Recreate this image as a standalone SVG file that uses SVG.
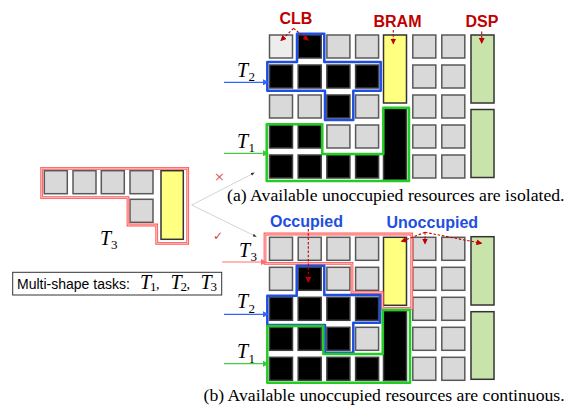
<svg xmlns="http://www.w3.org/2000/svg" width="568" height="407" viewBox="0 0 568 407">
  <style>
    .c { fill: #d9d9d9; stroke: #595959; stroke-width: 1.5; }
    .w { fill: #ededed; stroke: #595959; stroke-width: 1.5; }
    .k { fill: #000; stroke: #404040; stroke-width: 1.5; }
    .y { fill: #ffff80; stroke: #333; stroke-width: 1.5; }
    .g { fill: #c9e4aa; stroke: #333; stroke-width: 1.5; }
    .ob { fill: none; stroke: #1f4fe0; stroke-width: 2.5; stroke-linejoin: round; }
    .og { fill: none; stroke: #22cc22; stroke-width: 2.5; stroke-linejoin: round; }
    .or1 { fill: none; stroke: #ff5a5a; stroke-width: 2.8; }
    .or2 { fill: none; stroke: #ffd0d0; stroke-width: 0.9; }
    .lab { font-family: "Liberation Sans", Arial, sans-serif; font-weight: bold; font-size: 16px; }
    .red { fill: #c00000; }
    .blu { fill: #1f4fe0; }
    .cap { font-family: "Liberation Serif", "Times New Roman", serif; font-size: 17.7px; fill: #000; }
    .tm { font-family: "Liberation Serif", "Times New Roman", serif; font-style: italic; font-size: 20px; fill: #000; }
    .ts { font-family: "Liberation Serif", "Times New Roman", serif; font-size: 13px; fill: #000; }
    .dash { fill: none; stroke: #c00000; stroke-width: 1.1; stroke-dasharray: 2.5 1.8; }
    .thin { fill: none; stroke: #cfcfcf; stroke-width: 0.9; }
  </style>
  <defs>
    <marker id="ahR" markerUnits="userSpaceOnUse" markerWidth="6" markerHeight="6" refX="5" refY="3" orient="auto">
      <path d="M0,0 L6,3 L0,6 z" fill="#c00000"/>
    </marker>
    <marker id="ahBlue" markerUnits="userSpaceOnUse" markerWidth="6" markerHeight="6" refX="5" refY="3" orient="auto">
      <path d="M0,0 L6,3 L0,6 z" fill="#3366ff"/>
    </marker>
    <marker id="ahGreen" markerUnits="userSpaceOnUse" markerWidth="6" markerHeight="6" refX="5" refY="3" orient="auto">
      <path d="M0,0 L6,3 L0,6 z" fill="#33cc33"/>
    </marker>
    <marker id="ahPink" markerUnits="userSpaceOnUse" markerWidth="6" markerHeight="6" refX="5" refY="3" orient="auto">
      <path d="M0,0 L6,3 L0,6 z" fill="#ff6b6b"/>
    </marker>
    <marker id="ahDot" markerUnits="userSpaceOnUse" markerWidth="4" markerHeight="4" refX="2" refY="2" orient="auto">
      <path d="M0,0.5 L4,2 L0,3.5 z" fill="#333"/>
    </marker>
  </defs>

  <!-- grid (a): isolated free resources -->
  <g id="grid-a">
    <rect class="w" x="269.5" y="35" width="23" height="23"/>
    <rect class="k" x="298.2" y="35" width="23" height="23"/>
    <rect class="c" x="326.9" y="35" width="23" height="23"/>
    <rect class="c" x="355.6" y="35" width="23" height="23"/>
    <rect class="k" x="269.5" y="65" width="23" height="23"/>
    <rect class="k" x="298.2" y="65" width="23" height="23"/>
    <rect class="k" x="326.9" y="65" width="23" height="23"/>
    <rect class="k" x="355.6" y="65" width="23" height="23"/>
    <rect class="c" x="269.5" y="95" width="23" height="23"/>
    <rect class="c" x="298.2" y="95" width="23" height="23"/>
    <rect class="k" x="326.9" y="95" width="23" height="23"/>
    <rect class="c" x="355.6" y="95" width="23" height="23"/>
    <rect class="k" x="269.5" y="125" width="23" height="23"/>
    <rect class="k" x="298.2" y="125" width="23" height="23"/>
    <rect class="c" x="326.9" y="125" width="23" height="23"/>
    <rect class="c" x="355.6" y="125" width="23" height="23"/>
    <rect class="k" x="269.5" y="155" width="23" height="23"/>
    <rect class="k" x="298.2" y="155" width="23" height="23"/>
    <rect class="k" x="326.9" y="155" width="23" height="23"/>
    <rect class="k" x="355.6" y="155" width="23" height="23"/>
    <rect class="y" x="383.5" y="35" width="23" height="68"/>
    <rect class="k" x="383.5" y="108.5" width="23" height="71.5"/>
    <rect class="c" x="412.8" y="35" width="23" height="23"/>
    <rect class="c" x="441.8" y="35" width="23" height="23"/>
    <rect class="c" x="412.8" y="65" width="23" height="23"/>
    <rect class="c" x="441.8" y="65" width="23" height="23"/>
    <rect class="c" x="412.8" y="95" width="23" height="23"/>
    <rect class="c" x="441.8" y="95" width="23" height="23"/>
    <rect class="c" x="412.8" y="125" width="23" height="23"/>
    <rect class="c" x="441.8" y="125" width="23" height="23"/>
    <rect class="c" x="412.8" y="155" width="23" height="23"/>
    <rect class="c" x="441.8" y="155" width="23" height="23"/>
    <rect class="g" x="471" y="35" width="23" height="68"/>
    <rect class="g" x="471" y="109.5" width="23" height="68"/>
  </g>
  <g id="task-a-T2">
    <path class="ob" d="M297,33.7 H324.3 V62 H380.7 V90.7 H353.3 V120 H325 V90.7 H267.3 V62 H297 Z"/>
  </g>
  <g id="task-a-T1">
    <path class="og" d="M266.7,124.3 H322.3 V154 H383.3 V107.7 H409 V181 H266.7 Z"/>
  </g>

  <!-- grid (b): continuous free resources -->
  <g id="grid-b">
    <rect class="c" x="269.5" y="237.3" width="23" height="23"/>
    <rect class="c" x="298.2" y="237.3" width="23" height="23"/>
    <rect class="c" x="326.9" y="237.3" width="23" height="23"/>
    <rect class="c" x="355.6" y="237.3" width="23" height="23"/>
    <rect class="c" x="269.5" y="267.3" width="23" height="23"/>
    <rect class="k" x="298.2" y="267.3" width="23" height="23"/>
    <rect class="c" x="326.9" y="267.3" width="23" height="23"/>
    <rect class="c" x="355.6" y="267.3" width="23" height="23"/>
    <rect class="k" x="269.5" y="297.3" width="23" height="23"/>
    <rect class="k" x="298.2" y="297.3" width="23" height="23"/>
    <rect class="k" x="326.9" y="297.3" width="23" height="23"/>
    <rect class="k" x="355.6" y="297.3" width="23" height="23"/>
    <rect class="k" x="269.5" y="327.3" width="23" height="23"/>
    <rect class="k" x="298.2" y="327.3" width="23" height="23"/>
    <rect class="k" x="326.9" y="327.3" width="23" height="23"/>
    <rect class="c" x="355.6" y="327.3" width="23" height="23"/>
    <rect class="k" x="269.5" y="357.3" width="23" height="23"/>
    <rect class="k" x="298.2" y="357.3" width="23" height="23"/>
    <rect class="k" x="326.9" y="357.3" width="23" height="23"/>
    <rect class="k" x="355.6" y="357.3" width="23" height="23"/>
    <rect class="y" x="383.5" y="237.3" width="23" height="68"/>
    <rect class="k" x="383.5" y="310.7" width="23" height="70"/>
    <rect class="c" x="412.8" y="237.3" width="23" height="23"/>
    <rect class="c" x="441.8" y="237.3" width="23" height="23"/>
    <rect class="c" x="412.8" y="267.3" width="23" height="23"/>
    <rect class="c" x="441.8" y="267.3" width="23" height="23"/>
    <rect class="c" x="412.8" y="297.3" width="23" height="23"/>
    <rect class="c" x="441.8" y="297.3" width="23" height="23"/>
    <rect class="c" x="412.8" y="327.3" width="23" height="23"/>
    <rect class="c" x="441.8" y="327.3" width="23" height="23"/>
    <rect class="c" x="412.8" y="357.3" width="23" height="23"/>
    <rect class="c" x="441.8" y="357.3" width="23" height="23"/>
    <rect class="g" x="471" y="236.7" width="23" height="68.3"/>
    <rect class="g" x="471" y="311.7" width="23" height="67.6"/>
  </g>
  <g id="task-b-T3">
    <path class="or1" d="M265,234 H411.7 V308.3 H382.3 V292.7 H352 V263.3 H265 Z"/>
    <path class="or2" d="M265,234 H411.7 V308.3 H382.3 V292.7 H352 V263.3 H265 Z"/>
  </g>
  <g id="task-b-T2">
    <path class="ob" d="M296.7,265.7 H324.3 V295 H380 V322.7 H353.3 V352.7 H325 V325 H267.3 V295.7 H296.7 Z"/>
  </g>
  <g id="task-b-T1">
    <path class="og" d="M267.3,326 H323.3 V354 H382.7 V310 H410 V382.7 H267.3 Z"/>
  </g>

  <!-- standalone task T3 -->
  <g id="task-T3">
    <rect class="c" x="44.3" y="170.7" width="23" height="23"/>
    <rect class="c" x="73" y="170.7" width="23" height="23"/>
    <rect class="c" x="101.3" y="170.7" width="23" height="23"/>
    <rect class="c" x="130" y="170.7" width="23" height="23"/>
    <rect class="c" x="130" y="199.3" width="23" height="23"/>
    <rect class="y" x="161" y="170.7" width="22.3" height="68.6"/>
    <path class="or1" d="M41.7,168.3 H187.7 V243.3 H156.7 V225 H128 V197.7 H41.7 Z"/>
    <path class="or2" d="M41.7,168.3 H187.7 V243.3 H156.7 V225 H128 V197.7 H41.7 Z"/>
    <text class="tm" x="100" y="245">T</text><text class="ts" x="111" y="249">3</text>
  </g>

  <!-- legend box -->
  <g id="legend">
    <rect x="12.7" y="272.3" width="209" height="22.7" fill="#fff" stroke="#333" stroke-width="1"/>
    <text x="17" y="288.5" font-family="Liberation Sans, Arial, sans-serif" font-size="14">Multi-shape tasks:</text>
    <text class="tm" x="140" y="288.5" font-size="15">T</text><text class="ts" x="150" y="291" font-size="10">1</text><text x="156" y="288.5" font-family="Liberation Serif, serif" font-size="14">,</text>
    <text class="tm" x="170.5" y="288.5" font-size="15">T</text><text class="ts" x="180.5" y="291" font-size="10">2</text><text x="186.5" y="288.5" font-family="Liberation Serif, serif" font-size="14">,</text>
    <text class="tm" x="200.5" y="288.5" font-size="15">T</text><text class="ts" x="210.5" y="291" font-size="10">3</text>
  </g>

  <!-- connectors -->
  <g id="connectors">
    <line x1="224" y1="82.3" x2="268" y2="82.3" stroke="#3366ff" stroke-width="1.2" marker-end="url(#ahBlue)"/>
    <line x1="224" y1="153.3" x2="268" y2="153.3" stroke="#44cc44" stroke-width="1.2" marker-end="url(#ahGreen)"/>
    <line x1="222" y1="262" x2="266" y2="262" stroke="#ff7070" stroke-width="1.2" marker-end="url(#ahPink)"/>
    <line x1="224" y1="314.3" x2="268" y2="314.3" stroke="#3366ff" stroke-width="1.2" marker-end="url(#ahBlue)"/>
    <line x1="224" y1="363.7" x2="268" y2="363.7" stroke="#44cc44" stroke-width="1.2" marker-end="url(#ahGreen)"/>

    <line class="thin" x1="191.7" y1="205" x2="253" y2="173.5" marker-end="url(#ahDot)"/>
    <line class="thin" x1="191.7" y1="205" x2="255" y2="236" marker-end="url(#ahDot)"/>

    <path class="dash" d="M293.5,28.3 L281,40.5" marker-end="url(#ahR)"/>
    <path class="dash" d="M293.5,28.3 L308,40" marker-end="url(#ahR)"/>
    <path class="dash" d="M393.3,30 V43.5" marker-end="url(#ahR)"/>
    <path class="dash" d="M481.7,31.5 V43" marker-end="url(#ahR)"/>
    <path class="dash" d="M308.3,229 V282" marker-end="url(#ahR)"/>
    <path class="dash" d="M425,232.3 L401.5,241.5" marker-end="url(#ahR)"/>
    <path class="dash" d="M425,232.3 V243.5" marker-end="url(#ahR)"/>
    <path class="dash" d="M425,232.3 L481.5,243.3" marker-end="url(#ahR)"/>
  </g>

  <!-- labels -->
  <g id="labels">
    <text class="lab red" x="279.5" y="24" font-size="17">CLB</text>
    <text class="lab red" x="373.5" y="26.5">BRAM</text>
    <text class="lab red" x="465.5" y="26.5">DSP</text>
    <text class="lab blu" x="270" y="226.5">Occupied</text>
    <text class="lab blu" x="386.5" y="228">Unoccupied</text>

    <text class="tm" x="237" y="76.5">T</text><text class="ts" x="248.5" y="81">2</text>
    <text class="tm" x="237" y="147.5">T</text><text class="ts" x="248.5" y="152">1</text>
    <text class="tm" x="239" y="256.5">T</text><text class="ts" x="250.5" y="261">3</text>
    <text class="tm" x="237" y="308">T</text><text class="ts" x="248.5" y="312.5">2</text>
    <text class="tm" x="237" y="358">T</text><text class="ts" x="248.5" y="362.5">1</text>

    <text x="214" y="181" font-family="DejaVu Sans, sans-serif" font-size="13" fill="#e06060">×</text>
    <text x="213" y="240" font-family="DejaVu Sans, sans-serif" font-size="12" fill="#d04040">✓</text>

    <text class="cap" x="227" y="200.5">(a) Available unoccupied resources are isolated.</text>
    <text class="cap" x="203.5" y="400.5">(b) Available unoccupied resources are continuous.</text>
  </g>
</svg>
